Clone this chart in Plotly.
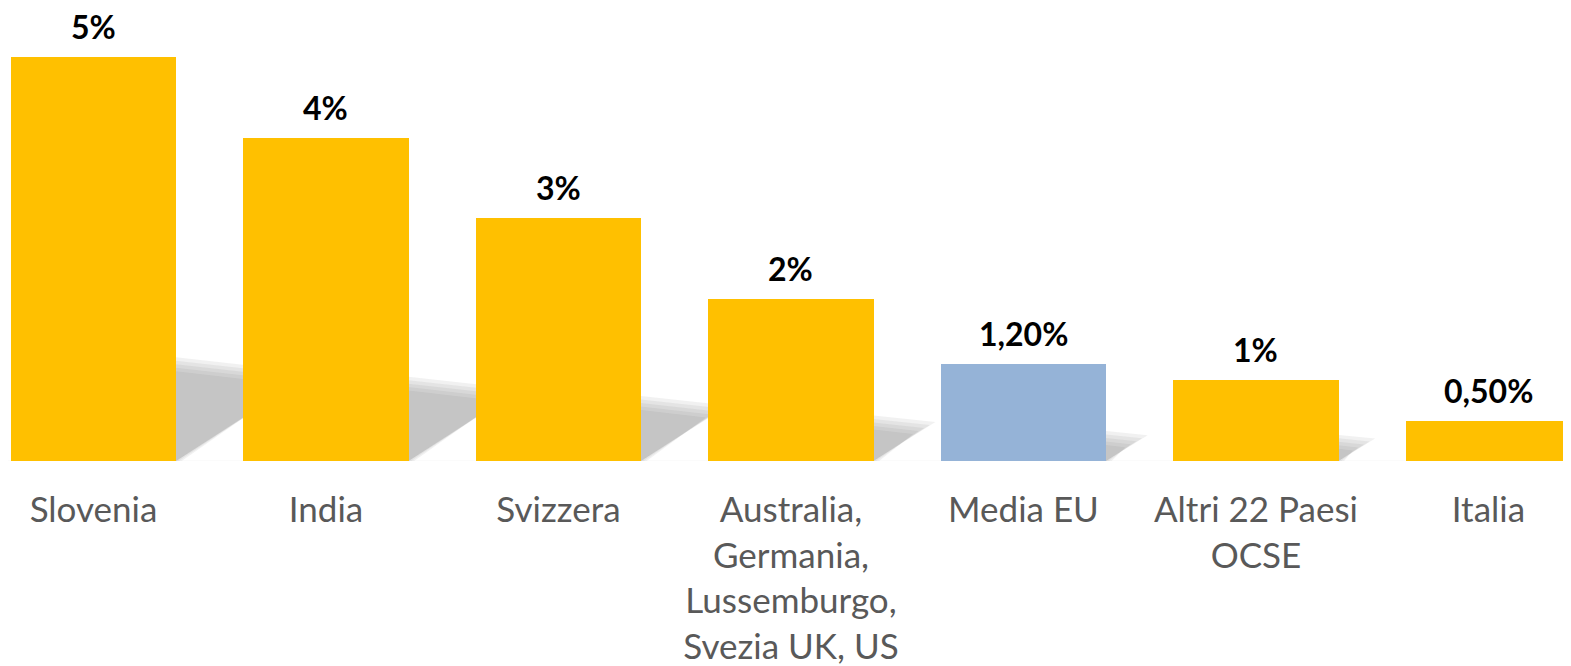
import plotly.graph_objects as go

categories = ["Slovenia", "India", "Svizzera",
              "Australia,<br>Germania,<br>Lussemburgo,<br>Svezia UK, US",
              "Media EU", "Altri 22 Paesi<br>OCSE", "Italia"]
values = [5, 4, 3, 2, 1.2, 1, 0.5]
value_labels = ["5%", "4%", "3%", "2%", "1,20%", "1%", "0,50%"]
bar_colors = ["#FFC000", "#FFC000", "#FFC000", "#FFC000", "#95B3D7", "#FFC000", "#FFC000"]

# page body adds an 8px margin, so the figure is slightly smaller than the window
W, H = 1563, 658
BAR_W = 0.71
X_RANGE = [-0.3677, 6.355]
Y_RANGE = [0, 5.603]
MB = 203

xs = list(range(len(categories)))

fig = go.Figure()
fig.add_trace(go.Bar(x=xs, y=values, width=BAR_W, marker_color=bar_colors,
                     marker_line_width=0, hoverinfo="skip"))

# pixel -> data unit conversions for shadow geometry
px_per_x = W / (X_RANGE[1] - X_RANGE[0])
px_per_y = (H - MB) / (Y_RANGE[1] - Y_RANGE[0])

shapes = []
# faint baseline shadow
shapes.append(dict(type="line", xref="x", yref="y", x0=X_RANGE[0], x1=X_RANGE[1],
                   y0=-0.015, y1=-0.015, line=dict(color="#f0f0f0", width=3), layer="below"))
for i, v in enumerate(values):
    xr = i + BAR_W / 2
    s_px = 0.24 * v * px_per_y         # shadow height in pixels
    L_px = 1.3 * s_px                  # shadow length in pixels
    for d in (-7, -3.5, 0, 3.5, 7):
        sj = max(s_px + d, 2) / px_per_y
        Lj = max(L_px + 1.6 * d, 4) / px_per_x
        x_start = xr + max(-d, 0) * 0.8 / px_per_x
        path = (f"M {xr - 0.01},0 L {xr - 0.01},{sj} "
                f"L {xr + Lj},{sj * 0.85} L {x_start},0 Z")
        shapes.append(dict(type="path", xref="x", yref="y", path=path,
                           fillcolor="rgba(120,120,120,0.1)", line=dict(width=0),
                           layer="below"))

annotations = []
for i, (v, t) in enumerate(zip(values, value_labels)):
    annotations.append(dict(x=i, y=v, xref="x", yref="y", text=f"<b>{t}</b>",
                            showarrow=False, yanchor="bottom", yshift=9,
                            font=dict(family="Lato", size=32, color="#000000")))

fig.update_layout(
    width=W, height=H,
    margin=dict(l=0, r=0, t=0, b=MB),
    paper_bgcolor="white", plot_bgcolor="white",
    showlegend=False, bargap=0,
    shapes=shapes, annotations=annotations,
    xaxis=dict(range=X_RANGE, tickmode="array", tickvals=xs, ticktext=categories,
               tickangle=0, showgrid=False, zeroline=False, showline=False,
               ticks="", ticklabelstandoff=25,
               tickfont=dict(family="Lato", size=35, color="#595959")),
    yaxis=dict(range=Y_RANGE, visible=False, showgrid=False, zeroline=False),
)
fig.update_traces(cliponaxis=False)

fig.write_html("out.html")
